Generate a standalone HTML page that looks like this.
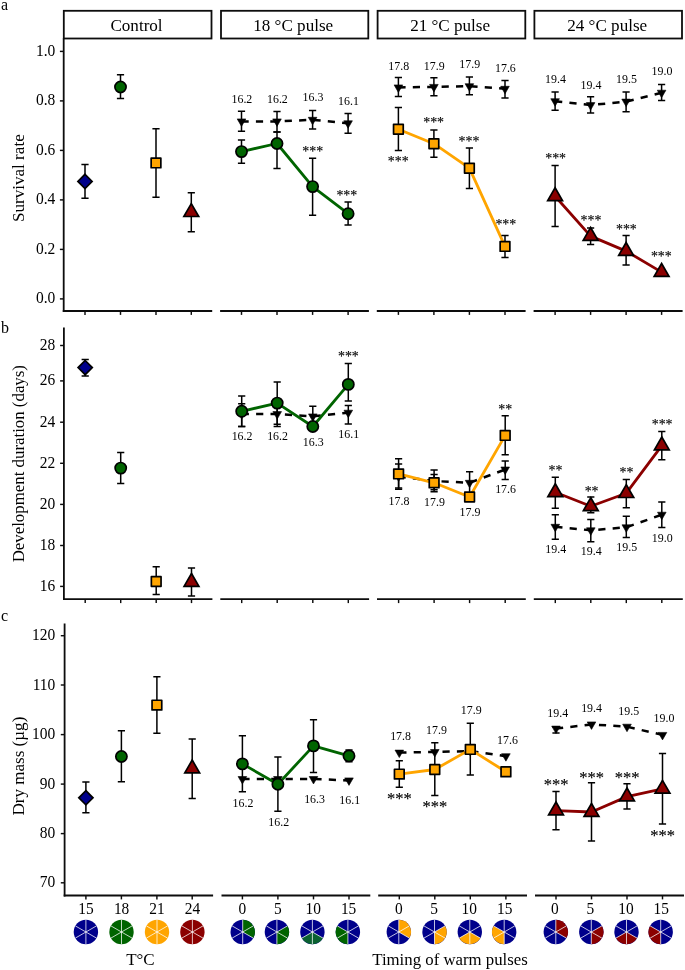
<!DOCTYPE html>
<html lang="en"><head><meta charset="utf-8"><title>Figure</title>
<style>html,body{margin:0;padding:0;background:#fff}body{width:685px;height:970px;overflow:hidden}svg{display:block}text{font-family:"Liberation Serif","Times New Roman",Times,serif;fill:#000}</style>
</head><body>
<svg width="685" height="970" viewBox="0 0 685 970">
<rect x="0" y="0" width="685" height="970" fill="#fff"/>
<rect x="63.8" y="10.8" width="147.7" height="27.7" fill="#fff" stroke="#0d0d0d" stroke-width="1.8"/>
<text transform="translate(136.5 30.7) scale(1 1.02)" font-size="17.1" text-anchor="middle">Control</text>
<rect x="221" y="10.8" width="147.3" height="27.7" fill="#fff" stroke="#0d0d0d" stroke-width="1.8"/>
<text transform="translate(293.2 30.7) scale(1 1.02)" font-size="17.1" text-anchor="middle">18 °C pulse</text>
<rect x="377.6" y="10.8" width="147.7" height="27.7" fill="#fff" stroke="#0d0d0d" stroke-width="1.8"/>
<text transform="translate(450.1 30.7) scale(1 1.02)" font-size="17.1" text-anchor="middle">21 °C pulse</text>
<rect x="534.4" y="10.8" width="147.6" height="27.7" fill="#fff" stroke="#0d0d0d" stroke-width="1.8"/>
<text transform="translate(607.2 30.7) scale(1 1.02)" font-size="17.1" text-anchor="middle">24 °C pulse</text>
<line x1="63.7" y1="38.2" x2="63.7" y2="311.9" stroke="#0d0d0d" stroke-width="1.8"/>
<line x1="59.9" y1="51.4" x2="63.7" y2="51.4" stroke="#0d0d0d" stroke-width="1.45"/>
<text transform="translate(55.3 55.9) scale(1 1.05)" font-size="15.5" text-anchor="end">1.0</text>
<line x1="59.9" y1="100.9" x2="63.7" y2="100.9" stroke="#0d0d0d" stroke-width="1.45"/>
<text transform="translate(55.3 105.4) scale(1 1.05)" font-size="15.5" text-anchor="end">0.8</text>
<line x1="59.9" y1="150.4" x2="63.7" y2="150.4" stroke="#0d0d0d" stroke-width="1.45"/>
<text transform="translate(55.3 154.9) scale(1 1.05)" font-size="15.5" text-anchor="end">0.6</text>
<line x1="59.9" y1="199.9" x2="63.7" y2="199.9" stroke="#0d0d0d" stroke-width="1.45"/>
<text transform="translate(55.3 204.4) scale(1 1.05)" font-size="15.5" text-anchor="end">0.4</text>
<line x1="59.9" y1="249.4" x2="63.7" y2="249.4" stroke="#0d0d0d" stroke-width="1.45"/>
<text transform="translate(55.3 253.9) scale(1 1.05)" font-size="15.5" text-anchor="end">0.2</text>
<line x1="59.9" y1="298.9" x2="63.7" y2="298.9" stroke="#0d0d0d" stroke-width="1.45"/>
<text transform="translate(55.3 303.4) scale(1 1.05)" font-size="15.5" text-anchor="end">0.0</text>
<line x1="62.8" y1="311" x2="212.2" y2="311" stroke="#0d0d0d" stroke-width="1.8"/>
<line x1="85" y1="311" x2="85" y2="314.9" stroke="#0d0d0d" stroke-width="1.45"/>
<line x1="120.5" y1="311" x2="120.5" y2="314.9" stroke="#0d0d0d" stroke-width="1.45"/>
<line x1="156" y1="311" x2="156" y2="314.9" stroke="#0d0d0d" stroke-width="1.45"/>
<line x1="191.3" y1="311" x2="191.3" y2="314.9" stroke="#0d0d0d" stroke-width="1.45"/>
<line x1="220.1" y1="311" x2="368.9" y2="311" stroke="#0d0d0d" stroke-width="1.8"/>
<line x1="241.5" y1="311" x2="241.5" y2="314.9" stroke="#0d0d0d" stroke-width="1.45"/>
<line x1="277" y1="311" x2="277" y2="314.9" stroke="#0d0d0d" stroke-width="1.45"/>
<line x1="312.6" y1="311" x2="312.6" y2="314.9" stroke="#0d0d0d" stroke-width="1.45"/>
<line x1="348.1" y1="311" x2="348.1" y2="314.9" stroke="#0d0d0d" stroke-width="1.45"/>
<line x1="376.8" y1="311" x2="525.6" y2="311" stroke="#0d0d0d" stroke-width="1.8"/>
<line x1="398.4" y1="311" x2="398.4" y2="314.9" stroke="#0d0d0d" stroke-width="1.45"/>
<line x1="433.9" y1="311" x2="433.9" y2="314.9" stroke="#0d0d0d" stroke-width="1.45"/>
<line x1="469.4" y1="311" x2="469.4" y2="314.9" stroke="#0d0d0d" stroke-width="1.45"/>
<line x1="505" y1="311" x2="505" y2="314.9" stroke="#0d0d0d" stroke-width="1.45"/>
<line x1="533.6" y1="311" x2="682.6" y2="311" stroke="#0d0d0d" stroke-width="1.8"/>
<line x1="555.1" y1="311" x2="555.1" y2="314.9" stroke="#0d0d0d" stroke-width="1.45"/>
<line x1="590.6" y1="311" x2="590.6" y2="314.9" stroke="#0d0d0d" stroke-width="1.45"/>
<line x1="626.1" y1="311" x2="626.1" y2="314.9" stroke="#0d0d0d" stroke-width="1.45"/>
<line x1="661.6" y1="311" x2="661.6" y2="314.9" stroke="#0d0d0d" stroke-width="1.45"/>
<text transform="translate(24.1 178.2) rotate(-90) scale(1 1.02)" font-size="17.1" text-anchor="middle">Survival rate</text>
<text transform="translate(1 9.5) scale(1 1.02)" font-size="16" text-anchor="start">a</text>
<line x1="63.9" y1="327.6" x2="63.9" y2="600.1" stroke="#0d0d0d" stroke-width="1.8"/>
<line x1="60.1" y1="345.5" x2="63.9" y2="345.5" stroke="#0d0d0d" stroke-width="1.45"/>
<text transform="translate(55.3 350) scale(1 1.05)" font-size="15.5" text-anchor="end">28</text>
<line x1="60.1" y1="380.9" x2="63.9" y2="380.9" stroke="#0d0d0d" stroke-width="1.45"/>
<text transform="translate(55.3 385.4) scale(1 1.05)" font-size="15.5" text-anchor="end">26</text>
<line x1="60.1" y1="422.2" x2="63.9" y2="422.2" stroke="#0d0d0d" stroke-width="1.45"/>
<text transform="translate(55.3 426.7) scale(1 1.05)" font-size="15.5" text-anchor="end">24</text>
<line x1="60.1" y1="463.3" x2="63.9" y2="463.3" stroke="#0d0d0d" stroke-width="1.45"/>
<text transform="translate(55.3 467.8) scale(1 1.05)" font-size="15.5" text-anchor="end">22</text>
<line x1="60.1" y1="504.4" x2="63.9" y2="504.4" stroke="#0d0d0d" stroke-width="1.45"/>
<text transform="translate(55.3 508.9) scale(1 1.05)" font-size="15.5" text-anchor="end">20</text>
<line x1="60.1" y1="545.5" x2="63.9" y2="545.5" stroke="#0d0d0d" stroke-width="1.45"/>
<text transform="translate(55.3 550) scale(1 1.05)" font-size="15.5" text-anchor="end">18</text>
<line x1="60.1" y1="586.4" x2="63.9" y2="586.4" stroke="#0d0d0d" stroke-width="1.45"/>
<text transform="translate(55.3 590.9) scale(1 1.05)" font-size="15.5" text-anchor="end">16</text>
<line x1="63" y1="599.2" x2="212.4" y2="599.2" stroke="#0d0d0d" stroke-width="1.8"/>
<line x1="85.2" y1="599.2" x2="85.2" y2="603.1" stroke="#0d0d0d" stroke-width="1.45"/>
<line x1="120.7" y1="599.2" x2="120.7" y2="603.1" stroke="#0d0d0d" stroke-width="1.45"/>
<line x1="156.2" y1="599.2" x2="156.2" y2="603.1" stroke="#0d0d0d" stroke-width="1.45"/>
<line x1="191.5" y1="599.2" x2="191.5" y2="603.1" stroke="#0d0d0d" stroke-width="1.45"/>
<line x1="220.3" y1="599.2" x2="369.1" y2="599.2" stroke="#0d0d0d" stroke-width="1.8"/>
<line x1="241.7" y1="599.2" x2="241.7" y2="603.1" stroke="#0d0d0d" stroke-width="1.45"/>
<line x1="277.2" y1="599.2" x2="277.2" y2="603.1" stroke="#0d0d0d" stroke-width="1.45"/>
<line x1="312.8" y1="599.2" x2="312.8" y2="603.1" stroke="#0d0d0d" stroke-width="1.45"/>
<line x1="348.3" y1="599.2" x2="348.3" y2="603.1" stroke="#0d0d0d" stroke-width="1.45"/>
<line x1="377" y1="599.2" x2="525.8" y2="599.2" stroke="#0d0d0d" stroke-width="1.8"/>
<line x1="398.6" y1="599.2" x2="398.6" y2="603.1" stroke="#0d0d0d" stroke-width="1.45"/>
<line x1="434.1" y1="599.2" x2="434.1" y2="603.1" stroke="#0d0d0d" stroke-width="1.45"/>
<line x1="469.6" y1="599.2" x2="469.6" y2="603.1" stroke="#0d0d0d" stroke-width="1.45"/>
<line x1="505.2" y1="599.2" x2="505.2" y2="603.1" stroke="#0d0d0d" stroke-width="1.45"/>
<line x1="533.8" y1="599.2" x2="682.8" y2="599.2" stroke="#0d0d0d" stroke-width="1.8"/>
<line x1="555.3" y1="599.2" x2="555.3" y2="603.1" stroke="#0d0d0d" stroke-width="1.45"/>
<line x1="590.8" y1="599.2" x2="590.8" y2="603.1" stroke="#0d0d0d" stroke-width="1.45"/>
<line x1="626.3" y1="599.2" x2="626.3" y2="603.1" stroke="#0d0d0d" stroke-width="1.45"/>
<line x1="661.8" y1="599.2" x2="661.8" y2="603.1" stroke="#0d0d0d" stroke-width="1.45"/>
<text transform="translate(24.1 463.7) rotate(-90) scale(1 1.02)" font-size="16.85" text-anchor="middle">Development duration (days)</text>
<text transform="translate(1 333) scale(1 1.02)" font-size="16" text-anchor="start">b</text>
<line x1="64.6" y1="623.6" x2="64.6" y2="896.4" stroke="#0d0d0d" stroke-width="1.8"/>
<line x1="60.8" y1="635.7" x2="64.6" y2="635.7" stroke="#0d0d0d" stroke-width="1.45"/>
<text transform="translate(55.3 640.2) scale(1 1.05)" font-size="15.5" text-anchor="end">120</text>
<line x1="60.8" y1="685" x2="64.6" y2="685" stroke="#0d0d0d" stroke-width="1.45"/>
<text transform="translate(55.3 689.5) scale(1 1.05)" font-size="15.5" text-anchor="end">110</text>
<line x1="60.8" y1="734.6" x2="64.6" y2="734.6" stroke="#0d0d0d" stroke-width="1.45"/>
<text transform="translate(55.3 739.1) scale(1 1.05)" font-size="15.5" text-anchor="end">100</text>
<line x1="60.8" y1="784.1" x2="64.6" y2="784.1" stroke="#0d0d0d" stroke-width="1.45"/>
<text transform="translate(55.3 788.6) scale(1 1.05)" font-size="15.5" text-anchor="end">90</text>
<line x1="60.8" y1="833.6" x2="64.6" y2="833.6" stroke="#0d0d0d" stroke-width="1.45"/>
<text transform="translate(55.3 838.1) scale(1 1.05)" font-size="15.5" text-anchor="end">80</text>
<line x1="60.8" y1="882.8" x2="64.6" y2="882.8" stroke="#0d0d0d" stroke-width="1.45"/>
<text transform="translate(55.3 887.3) scale(1 1.05)" font-size="15.5" text-anchor="end">70</text>
<line x1="63.7" y1="895.5" x2="213.1" y2="895.5" stroke="#0d0d0d" stroke-width="1.8"/>
<line x1="85.9" y1="895.5" x2="85.9" y2="899.4" stroke="#0d0d0d" stroke-width="1.45"/>
<line x1="121.4" y1="895.5" x2="121.4" y2="899.4" stroke="#0d0d0d" stroke-width="1.45"/>
<line x1="156.9" y1="895.5" x2="156.9" y2="899.4" stroke="#0d0d0d" stroke-width="1.45"/>
<line x1="192.2" y1="895.5" x2="192.2" y2="899.4" stroke="#0d0d0d" stroke-width="1.45"/>
<line x1="221.5" y1="895.5" x2="370.3" y2="895.5" stroke="#0d0d0d" stroke-width="1.8"/>
<line x1="242.4" y1="895.5" x2="242.4" y2="899.4" stroke="#0d0d0d" stroke-width="1.45"/>
<line x1="277.9" y1="895.5" x2="277.9" y2="899.4" stroke="#0d0d0d" stroke-width="1.45"/>
<line x1="313.5" y1="895.5" x2="313.5" y2="899.4" stroke="#0d0d0d" stroke-width="1.45"/>
<line x1="349" y1="895.5" x2="349" y2="899.4" stroke="#0d0d0d" stroke-width="1.45"/>
<line x1="378.2" y1="895.5" x2="527" y2="895.5" stroke="#0d0d0d" stroke-width="1.8"/>
<line x1="399.3" y1="895.5" x2="399.3" y2="899.4" stroke="#0d0d0d" stroke-width="1.45"/>
<line x1="434.8" y1="895.5" x2="434.8" y2="899.4" stroke="#0d0d0d" stroke-width="1.45"/>
<line x1="470.3" y1="895.5" x2="470.3" y2="899.4" stroke="#0d0d0d" stroke-width="1.45"/>
<line x1="505.9" y1="895.5" x2="505.9" y2="899.4" stroke="#0d0d0d" stroke-width="1.45"/>
<line x1="535" y1="895.5" x2="684" y2="895.5" stroke="#0d0d0d" stroke-width="1.8"/>
<line x1="556" y1="895.5" x2="556" y2="899.4" stroke="#0d0d0d" stroke-width="1.45"/>
<line x1="591.5" y1="895.5" x2="591.5" y2="899.4" stroke="#0d0d0d" stroke-width="1.45"/>
<line x1="627" y1="895.5" x2="627" y2="899.4" stroke="#0d0d0d" stroke-width="1.45"/>
<line x1="662.5" y1="895.5" x2="662.5" y2="899.4" stroke="#0d0d0d" stroke-width="1.45"/>
<text transform="translate(24.1 766.1) rotate(-90) scale(1 1.02)" font-size="17.05" text-anchor="middle">Dry mass (µg)</text>
<text transform="translate(1 621.4) scale(1 1.02)" font-size="16" text-anchor="start">c</text>
<path d="M85 164.4V198.3M81.4 164.4H88.6M81.4 198.3H88.6" fill="none" stroke="#000" stroke-width="1.5"/>
<path d="M120.5 74.8V98.4M116.9 74.8H124.1M116.9 98.4H124.1" fill="none" stroke="#000" stroke-width="1.5"/>
<path d="M156 128.8V197.2M152.4 128.8H159.6M152.4 197.2H159.6" fill="none" stroke="#000" stroke-width="1.5"/>
<path d="M191.3 192.8V231.8M187.7 192.8H194.9M187.7 231.8H194.9" fill="none" stroke="#000" stroke-width="1.5"/>
<path d="M85 174.3L92.1 181.4L85 188.5L77.9 181.4Z" fill="#00008b" stroke="#000" stroke-width="1.7" stroke-linejoin="miter"/>
<circle cx="120.5" cy="87" r="5.6" fill="#006400" stroke="#000" stroke-width="1.7"/>
<rect x="151.15" y="158.05" width="9.7" height="9.7" fill="#ffa500" stroke="#000" stroke-width="1.7" stroke-linejoin="round"/>
<path d="M191.3 203.65L198.71 216.48L183.89 216.48Z" fill="#8b0000" stroke="#000" stroke-width="1.7" stroke-linejoin="miter"/>
<polyline points="241.5,121.4 277,121.4 312.6,119.8 348.1,123.3" fill="none" stroke="#000" stroke-width="2.5" stroke-linejoin="round" stroke-dasharray="7.2 7.2"/>
<path d="M241.5 111.3V131.2M237.9 111.3H245.1M237.9 131.2H245.1" fill="none" stroke="#000" stroke-width="1.5"/>
<path d="M277 111.6V131.9M273.4 111.6H280.6M273.4 131.9H280.6" fill="none" stroke="#000" stroke-width="1.5"/>
<path d="M312.6 110.6V128.9M309 110.6H316.2M309 128.9H316.2" fill="none" stroke="#000" stroke-width="1.5"/>
<path d="M348.1 113.4V133.3M344.5 113.4H351.7M344.5 133.3H351.7" fill="none" stroke="#000" stroke-width="1.5"/>
<path d="M241.5 126.38L245.81 118.91L237.19 118.91Z" fill="#000" stroke="#000" stroke-width="0.6" stroke-linejoin="miter"/>
<path d="M277 126.38L281.31 118.91L272.69 118.91Z" fill="#000" stroke="#000" stroke-width="0.6" stroke-linejoin="miter"/>
<path d="M312.6 124.78L316.91 117.31L308.29 117.31Z" fill="#000" stroke="#000" stroke-width="0.6" stroke-linejoin="miter"/>
<path d="M348.1 128.28L352.41 120.81L343.79 120.81Z" fill="#000" stroke="#000" stroke-width="0.6" stroke-linejoin="miter"/>
<polyline points="241.5,151.6 277,143.5 312.6,186.6 348.1,213.7" fill="none" stroke="#006400" stroke-width="2.8" stroke-linejoin="round"/>
<path d="M241.5 140.1V163.2M237.9 140.1H245.1M237.9 163.2H245.1" fill="none" stroke="#000" stroke-width="1.5"/>
<path d="M277 131.9V168.6M273.4 131.9H280.6M273.4 168.6H280.6" fill="none" stroke="#000" stroke-width="1.5"/>
<path d="M312.6 158.3V215.3M309 158.3H316.2M309 215.3H316.2" fill="none" stroke="#000" stroke-width="1.5"/>
<path d="M348.1 202V225.1M344.5 202H351.7M344.5 225.1H351.7" fill="none" stroke="#000" stroke-width="1.5"/>
<circle cx="241.5" cy="151.6" r="5.6" fill="#006400" stroke="#000" stroke-width="1.7"/>
<circle cx="277" cy="143.5" r="5.6" fill="#006400" stroke="#000" stroke-width="1.7"/>
<circle cx="312.6" cy="186.6" r="5.6" fill="#006400" stroke="#000" stroke-width="1.7"/>
<circle cx="348.1" cy="213.7" r="5.6" fill="#006400" stroke="#000" stroke-width="1.7"/>
<text transform="translate(241.9 102.6) scale(0.97 1.05)" font-size="12.3" text-anchor="middle">16.2</text>
<text transform="translate(277.4 102.6) scale(0.97 1.05)" font-size="12.3" text-anchor="middle">16.2</text>
<text transform="translate(313 101.3) scale(0.97 1.05)" font-size="12.3" text-anchor="middle">16.3</text>
<text transform="translate(348.5 105) scale(0.97 1.05)" font-size="12.3" text-anchor="middle">16.1</text>
<text transform="translate(312.7 156.19) scale(1 1.02)" font-size="13.9" text-anchor="middle" stroke="#000" stroke-width="0.15">***</text>
<text transform="translate(346.8 199.89) scale(1 1.02)" font-size="13.9" text-anchor="middle" stroke="#000" stroke-width="0.15">***</text>
<polyline points="398.4,87.4 433.9,86.9 469.4,86.2 505,88.8" fill="none" stroke="#000" stroke-width="2.5" stroke-linejoin="round" stroke-dasharray="7.2 7.2"/>
<path d="M398.4 77.6V96.5M394.8 77.6H402M394.8 96.5H402" fill="none" stroke="#000" stroke-width="1.5"/>
<path d="M433.9 77.8V95.8M430.3 77.8H437.5M430.3 95.8H437.5" fill="none" stroke="#000" stroke-width="1.5"/>
<path d="M469.4 77.1V94.8M465.8 77.1H473M465.8 94.8H473" fill="none" stroke="#000" stroke-width="1.5"/>
<path d="M505 80.4V98.1M501.4 80.4H508.6M501.4 98.1H508.6" fill="none" stroke="#000" stroke-width="1.5"/>
<path d="M398.4 92.38L402.71 84.91L394.09 84.91Z" fill="#000" stroke="#000" stroke-width="0.6" stroke-linejoin="miter"/>
<path d="M433.9 91.88L438.21 84.41L429.59 84.41Z" fill="#000" stroke="#000" stroke-width="0.6" stroke-linejoin="miter"/>
<path d="M469.4 91.18L473.71 83.71L465.09 83.71Z" fill="#000" stroke="#000" stroke-width="0.6" stroke-linejoin="miter"/>
<path d="M505 93.78L509.31 86.31L500.69 86.31Z" fill="#000" stroke="#000" stroke-width="0.6" stroke-linejoin="miter"/>
<polyline points="398.4,129.2 433.9,143.7 469.4,168.2 505,246.4" fill="none" stroke="#ffa500" stroke-width="2.8" stroke-linejoin="round"/>
<path d="M398.4 107.5V150.4M394.8 107.5H402M394.8 150.4H402" fill="none" stroke="#000" stroke-width="1.5"/>
<path d="M433.9 130.1V157.2M430.3 130.1H437.5M430.3 157.2H437.5" fill="none" stroke="#000" stroke-width="1.5"/>
<path d="M469.4 148.1V188.5M465.8 148.1H473M465.8 188.5H473" fill="none" stroke="#000" stroke-width="1.5"/>
<path d="M505 235.6V257.4M501.4 235.6H508.6M501.4 257.4H508.6" fill="none" stroke="#000" stroke-width="1.5"/>
<rect x="393.55" y="124.35" width="9.7" height="9.7" fill="#ffa500" stroke="#000" stroke-width="1.7" stroke-linejoin="round"/>
<rect x="429.05" y="138.85" width="9.7" height="9.7" fill="#ffa500" stroke="#000" stroke-width="1.7" stroke-linejoin="round"/>
<rect x="464.55" y="163.35" width="9.7" height="9.7" fill="#ffa500" stroke="#000" stroke-width="1.7" stroke-linejoin="round"/>
<rect x="500.15" y="241.55" width="9.7" height="9.7" fill="#ffa500" stroke="#000" stroke-width="1.7" stroke-linejoin="round"/>
<text transform="translate(398.8 69.6) scale(0.97 1.05)" font-size="12.3" text-anchor="middle">17.8</text>
<text transform="translate(434.3 69.6) scale(0.97 1.05)" font-size="12.3" text-anchor="middle">17.9</text>
<text transform="translate(469.8 68.2) scale(0.97 1.05)" font-size="12.3" text-anchor="middle">17.9</text>
<text transform="translate(505.4 71.7) scale(0.97 1.05)" font-size="12.3" text-anchor="middle">17.6</text>
<text transform="translate(398.2 166.49) scale(1 1.02)" font-size="13.9" text-anchor="middle" stroke="#000" stroke-width="0.15">***</text>
<text transform="translate(433.6 127.39) scale(1 1.02)" font-size="13.9" text-anchor="middle" stroke="#000" stroke-width="0.15">***</text>
<text transform="translate(469 146.29) scale(1 1.02)" font-size="13.9" text-anchor="middle" stroke="#000" stroke-width="0.15">***</text>
<text transform="translate(505.8 228.99) scale(1 1.02)" font-size="13.9" text-anchor="middle" stroke="#000" stroke-width="0.15">***</text>
<polyline points="555.1,101.2 590.6,105.1 626.1,101.6 661.6,92.7" fill="none" stroke="#000" stroke-width="2.5" stroke-linejoin="round" stroke-dasharray="7.2 7.2"/>
<path d="M555.1 92V110.3M551.5 92H558.7M551.5 110.3H558.7" fill="none" stroke="#000" stroke-width="1.5"/>
<path d="M590.6 96.7V113.1M587 96.7H594.2M587 113.1H594.2" fill="none" stroke="#000" stroke-width="1.5"/>
<path d="M626.1 92V111.7M622.5 92H629.7M622.5 111.7H629.7" fill="none" stroke="#000" stroke-width="1.5"/>
<path d="M661.6 84.6V100.5M658 84.6H665.2M658 100.5H665.2" fill="none" stroke="#000" stroke-width="1.5"/>
<path d="M555.1 106.18L559.41 98.71L550.79 98.71Z" fill="#000" stroke="#000" stroke-width="0.6" stroke-linejoin="miter"/>
<path d="M590.6 110.08L594.91 102.61L586.29 102.61Z" fill="#000" stroke="#000" stroke-width="0.6" stroke-linejoin="miter"/>
<path d="M626.1 106.58L630.41 99.11L621.79 99.11Z" fill="#000" stroke="#000" stroke-width="0.6" stroke-linejoin="miter"/>
<path d="M661.6 97.68L665.91 90.21L657.29 90.21Z" fill="#000" stroke="#000" stroke-width="0.6" stroke-linejoin="miter"/>
<polyline points="555.1,196.3 590.6,236.1 626.1,251.1 661.6,272.1" fill="none" stroke="#8b0000" stroke-width="2.8" stroke-linejoin="round"/>
<path d="M555.1 165.4V226.6M551.5 165.4H558.7M551.5 226.6H558.7" fill="none" stroke="#000" stroke-width="1.5"/>
<path d="M590.6 228V244.5M587 228H594.2M587 244.5H594.2" fill="none" stroke="#000" stroke-width="1.5"/>
<path d="M626.1 235.6V265.1M622.5 235.6H629.7M622.5 265.1H629.7" fill="none" stroke="#000" stroke-width="1.5"/>
<path d="M555.1 187.75L562.51 200.58L547.69 200.58Z" fill="#8b0000" stroke="#000" stroke-width="1.7" stroke-linejoin="miter"/>
<path d="M590.6 227.55L598.01 240.38L583.19 240.38Z" fill="#8b0000" stroke="#000" stroke-width="1.7" stroke-linejoin="miter"/>
<path d="M626.1 242.55L633.51 255.38L618.69 255.38Z" fill="#8b0000" stroke="#000" stroke-width="1.7" stroke-linejoin="miter"/>
<path d="M661.6 263.55L669.01 276.38L654.19 276.38Z" fill="#8b0000" stroke="#000" stroke-width="1.7" stroke-linejoin="miter"/>
<text transform="translate(555.5 83.2) scale(0.97 1.05)" font-size="12.3" text-anchor="middle">19.4</text>
<text transform="translate(591 88.8) scale(0.97 1.05)" font-size="12.3" text-anchor="middle">19.4</text>
<text transform="translate(626.5 83.2) scale(0.97 1.05)" font-size="12.3" text-anchor="middle">19.5</text>
<text transform="translate(662 75.2) scale(0.97 1.05)" font-size="12.3" text-anchor="middle">19.0</text>
<text transform="translate(555.6 163.49) scale(1 1.02)" font-size="13.9" text-anchor="middle" stroke="#000" stroke-width="0.15">***</text>
<text transform="translate(591 225.29) scale(1 1.02)" font-size="13.9" text-anchor="middle" stroke="#000" stroke-width="0.15">***</text>
<text transform="translate(626.4 233.99) scale(1 1.02)" font-size="13.9" text-anchor="middle" stroke="#000" stroke-width="0.15">***</text>
<text transform="translate(661.3 260.99) scale(1 1.02)" font-size="13.9" text-anchor="middle" stroke="#000" stroke-width="0.15">***</text>
<path d="M85.2 359.4V376M81.6 359.4H88.8M81.6 376H88.8" fill="none" stroke="#000" stroke-width="1.5"/>
<path d="M120.7 452.4V483.5M117.1 452.4H124.3M117.1 483.5H124.3" fill="none" stroke="#000" stroke-width="1.5"/>
<path d="M156.2 566.7V594.6M152.6 566.7H159.8M152.6 594.6H159.8" fill="none" stroke="#000" stroke-width="1.5"/>
<path d="M191.5 568V595.9M187.9 568H195.1M187.9 595.9H195.1" fill="none" stroke="#000" stroke-width="1.5"/>
<path d="M85.2 360.5L92.3 367.6L85.2 374.7L78.1 367.6Z" fill="#00008b" stroke="#000" stroke-width="1.7" stroke-linejoin="miter"/>
<circle cx="120.7" cy="468.1" r="5.6" fill="#006400" stroke="#000" stroke-width="1.7"/>
<rect x="151.35" y="576.65" width="9.7" height="9.7" fill="#ffa500" stroke="#000" stroke-width="1.7" stroke-linejoin="round"/>
<path d="M191.5 573.45L198.91 586.28L184.09 586.28Z" fill="#8b0000" stroke="#000" stroke-width="1.7" stroke-linejoin="miter"/>
<polyline points="241.7,414.1 277.2,414.1 312.8,416.4 348.3,412.7" fill="none" stroke="#000" stroke-width="2.5" stroke-linejoin="round" stroke-dasharray="7.2 7.2"/>
<path d="M241.7 403.8V426.6M238.1 403.8H245.3M238.1 426.6H245.3" fill="none" stroke="#000" stroke-width="1.5"/>
<path d="M277.2 404V426.5M273.6 404H280.8M273.6 426.5H280.8" fill="none" stroke="#000" stroke-width="1.5"/>
<path d="M312.8 406.2V426M309.2 406.2H316.4M309.2 426H316.4" fill="none" stroke="#000" stroke-width="1.5"/>
<path d="M348.3 405.4V424.1M344.7 405.4H351.9M344.7 424.1H351.9" fill="none" stroke="#000" stroke-width="1.5"/>
<path d="M241.7 419.08L246.01 411.61L237.39 411.61Z" fill="#000" stroke="#000" stroke-width="0.6" stroke-linejoin="miter"/>
<path d="M277.2 419.08L281.51 411.61L272.89 411.61Z" fill="#000" stroke="#000" stroke-width="0.6" stroke-linejoin="miter"/>
<path d="M312.8 421.38L317.11 413.91L308.49 413.91Z" fill="#000" stroke="#000" stroke-width="0.6" stroke-linejoin="miter"/>
<path d="M348.3 417.68L352.61 410.21L343.99 410.21Z" fill="#000" stroke="#000" stroke-width="0.6" stroke-linejoin="miter"/>
<polyline points="241.7,411.3 277.2,403.1 312.8,426.5 348.3,384.4" fill="none" stroke="#006400" stroke-width="2.8" stroke-linejoin="round"/>
<path d="M241.7 396.1V426.6M238.1 396.1H245.3M238.1 426.6H245.3" fill="none" stroke="#000" stroke-width="1.5"/>
<path d="M277.2 381.9V424.3M273.6 381.9H280.8M273.6 424.3H280.8" fill="none" stroke="#000" stroke-width="1.5"/>
<path d="M348.3 363.6V401M344.7 363.6H351.9M344.7 401H351.9" fill="none" stroke="#000" stroke-width="1.5"/>
<circle cx="241.7" cy="411.3" r="5.6" fill="#006400" stroke="#000" stroke-width="1.7"/>
<circle cx="277.2" cy="403.1" r="5.6" fill="#006400" stroke="#000" stroke-width="1.7"/>
<circle cx="312.8" cy="426.5" r="5.6" fill="#006400" stroke="#000" stroke-width="1.7"/>
<circle cx="348.3" cy="384.4" r="5.6" fill="#006400" stroke="#000" stroke-width="1.7"/>
<text transform="translate(242.1 439.8) scale(0.97 1.05)" font-size="12.3" text-anchor="middle">16.2</text>
<text transform="translate(277.6 439.8) scale(0.97 1.05)" font-size="12.3" text-anchor="middle">16.2</text>
<text transform="translate(313.2 445.6) scale(0.97 1.05)" font-size="12.3" text-anchor="middle">16.3</text>
<text transform="translate(348.7 437.9) scale(0.97 1.05)" font-size="12.3" text-anchor="middle">16.1</text>
<text transform="translate(348.4 360.59) scale(1 1.02)" font-size="13.9" text-anchor="middle" stroke="#000" stroke-width="0.15">***</text>
<polyline points="398.6,476.5 434.1,481 469.6,482.8 505.2,469.5" fill="none" stroke="#000" stroke-width="2.5" stroke-linejoin="round" stroke-dasharray="7.2 7.2"/>
<path d="M398.6 464.1V488M395 464.1H402.2M395 488H402.2" fill="none" stroke="#000" stroke-width="1.5"/>
<path d="M434.1 474.6V489.8M430.5 474.6H437.7M430.5 489.8H437.7" fill="none" stroke="#000" stroke-width="1.5"/>
<path d="M469.6 471.8V493M466 471.8H473.2M466 493H473.2" fill="none" stroke="#000" stroke-width="1.5"/>
<path d="M505.2 461V479.5M501.6 461H508.8M501.6 479.5H508.8" fill="none" stroke="#000" stroke-width="1.5"/>
<path d="M398.6 481.48L402.91 474.01L394.29 474.01Z" fill="#000" stroke="#000" stroke-width="0.6" stroke-linejoin="miter"/>
<path d="M434.1 485.98L438.41 478.51L429.79 478.51Z" fill="#000" stroke="#000" stroke-width="0.6" stroke-linejoin="miter"/>
<path d="M469.6 487.78L473.91 480.31L465.29 480.31Z" fill="#000" stroke="#000" stroke-width="0.6" stroke-linejoin="miter"/>
<path d="M505.2 474.48L509.51 467.01L500.89 467.01Z" fill="#000" stroke="#000" stroke-width="0.6" stroke-linejoin="miter"/>
<polyline points="398.6,473.9 434.1,482.8 469.6,497 505.2,435.4" fill="none" stroke="#ffa500" stroke-width="2.8" stroke-linejoin="round"/>
<path d="M398.6 458.7V489.3M395 458.7H402.2M395 489.3H402.2" fill="none" stroke="#000" stroke-width="1.5"/>
<path d="M434.1 469.9V491.7M430.5 469.9H437.7M430.5 491.7H437.7" fill="none" stroke="#000" stroke-width="1.5"/>
<path d="M505.2 415.7V454.7M501.6 415.7H508.8M501.6 454.7H508.8" fill="none" stroke="#000" stroke-width="1.5"/>
<rect x="393.75" y="469.05" width="9.7" height="9.7" fill="#ffa500" stroke="#000" stroke-width="1.7" stroke-linejoin="round"/>
<rect x="429.25" y="477.95" width="9.7" height="9.7" fill="#ffa500" stroke="#000" stroke-width="1.7" stroke-linejoin="round"/>
<rect x="464.75" y="492.15" width="9.7" height="9.7" fill="#ffa500" stroke="#000" stroke-width="1.7" stroke-linejoin="round"/>
<rect x="500.35" y="430.55" width="9.7" height="9.7" fill="#ffa500" stroke="#000" stroke-width="1.7" stroke-linejoin="round"/>
<text transform="translate(399 505) scale(0.97 1.05)" font-size="12.3" text-anchor="middle">17.8</text>
<text transform="translate(434.5 506.1) scale(0.97 1.05)" font-size="12.3" text-anchor="middle">17.9</text>
<text transform="translate(470 516.2) scale(0.97 1.05)" font-size="12.3" text-anchor="middle">17.9</text>
<text transform="translate(505.6 492.8) scale(0.97 1.05)" font-size="12.3" text-anchor="middle">17.6</text>
<text transform="translate(505.2 414.09) scale(1 1.02)" font-size="13.9" text-anchor="middle" stroke="#000" stroke-width="0.15">**</text>
<polyline points="555.3,526.8 590.8,530.3 626.3,527.3 661.8,514.7" fill="none" stroke="#000" stroke-width="2.5" stroke-linejoin="round" stroke-dasharray="7.2 7.2"/>
<path d="M555.3 514.7V539.2M551.7 514.7H558.9M551.7 539.2H558.9" fill="none" stroke="#000" stroke-width="1.5"/>
<path d="M590.8 519.4V541.8M587.2 519.4H594.4M587.2 541.8H594.4" fill="none" stroke="#000" stroke-width="1.5"/>
<path d="M626.3 516.3V537.6M622.7 516.3H629.9M622.7 537.6H629.9" fill="none" stroke="#000" stroke-width="1.5"/>
<path d="M661.8 502.1V527.5M658.2 502.1H665.4M658.2 527.5H665.4" fill="none" stroke="#000" stroke-width="1.5"/>
<path d="M555.3 531.78L559.61 524.31L550.99 524.31Z" fill="#000" stroke="#000" stroke-width="0.6" stroke-linejoin="miter"/>
<path d="M590.8 535.28L595.11 527.81L586.49 527.81Z" fill="#000" stroke="#000" stroke-width="0.6" stroke-linejoin="miter"/>
<path d="M626.3 532.28L630.61 524.81L621.99 524.81Z" fill="#000" stroke="#000" stroke-width="0.6" stroke-linejoin="miter"/>
<path d="M661.8 519.68L666.11 512.21L657.49 512.21Z" fill="#000" stroke="#000" stroke-width="0.6" stroke-linejoin="miter"/>
<polyline points="555.3,492.3 590.8,506.3 626.3,493.2 661.8,445.6" fill="none" stroke="#8b0000" stroke-width="2.8" stroke-linejoin="round"/>
<path d="M555.3 477.3V508.2M551.7 477.3H558.9M551.7 508.2H558.9" fill="none" stroke="#000" stroke-width="1.5"/>
<path d="M590.8 497V512.8M587.2 497H594.4M587.2 512.8H594.4" fill="none" stroke="#000" stroke-width="1.5"/>
<path d="M626.3 479.4V507.7M622.7 479.4H629.9M622.7 507.7H629.9" fill="none" stroke="#000" stroke-width="1.5"/>
<path d="M661.8 431.5V459.8M658.2 431.5H665.4M658.2 459.8H665.4" fill="none" stroke="#000" stroke-width="1.5"/>
<path d="M555.3 483.75L562.71 496.58L547.89 496.58Z" fill="#8b0000" stroke="#000" stroke-width="1.7" stroke-linejoin="miter"/>
<path d="M590.8 497.75L598.21 510.58L583.39 510.58Z" fill="#8b0000" stroke="#000" stroke-width="1.7" stroke-linejoin="miter"/>
<path d="M626.3 484.65L633.71 497.48L618.89 497.48Z" fill="#8b0000" stroke="#000" stroke-width="1.7" stroke-linejoin="miter"/>
<path d="M661.8 437.05L669.21 449.88L654.39 449.88Z" fill="#8b0000" stroke="#000" stroke-width="1.7" stroke-linejoin="miter"/>
<text transform="translate(555.7 552.5) scale(0.97 1.05)" font-size="12.3" text-anchor="middle">19.4</text>
<text transform="translate(591.2 555.3) scale(0.97 1.05)" font-size="12.3" text-anchor="middle">19.4</text>
<text transform="translate(626.7 551.4) scale(0.97 1.05)" font-size="12.3" text-anchor="middle">19.5</text>
<text transform="translate(662.2 541.8) scale(0.97 1.05)" font-size="12.3" text-anchor="middle">19.0</text>
<text transform="translate(555.4 474.79) scale(1 1.02)" font-size="13.9" text-anchor="middle" stroke="#000" stroke-width="0.15">**</text>
<text transform="translate(591.6 495.79) scale(1 1.02)" font-size="13.9" text-anchor="middle" stroke="#000" stroke-width="0.15">**</text>
<text transform="translate(626.4 476.59) scale(1 1.02)" font-size="13.9" text-anchor="middle" stroke="#000" stroke-width="0.15">**</text>
<text transform="translate(662.1 429.19) scale(1 1.02)" font-size="13.9" text-anchor="middle" stroke="#000" stroke-width="0.15">***</text>
<path d="M85.9 781.9V812.8M82.3 781.9H89.5M82.3 812.8H89.5" fill="none" stroke="#000" stroke-width="1.5"/>
<path d="M121.4 730.8V781.7M117.8 730.8H125M117.8 781.7H125" fill="none" stroke="#000" stroke-width="1.5"/>
<path d="M156.9 676.8V733.3M153.3 676.8H160.5M153.3 733.3H160.5" fill="none" stroke="#000" stroke-width="1.5"/>
<path d="M192.2 739V798.5M188.6 739H195.8M188.6 798.5H195.8" fill="none" stroke="#000" stroke-width="1.5"/>
<path d="M85.9 790.7L93 797.8L85.9 804.9L78.8 797.8Z" fill="#00008b" stroke="#000" stroke-width="1.7" stroke-linejoin="miter"/>
<circle cx="121.4" cy="756.5" r="5.6" fill="#006400" stroke="#000" stroke-width="1.7"/>
<rect x="152.05" y="700.25" width="9.7" height="9.7" fill="#ffa500" stroke="#000" stroke-width="1.7" stroke-linejoin="round"/>
<path d="M192.2 760.05L199.61 772.88L184.79 772.88Z" fill="#8b0000" stroke="#000" stroke-width="1.7" stroke-linejoin="miter"/>
<polyline points="242.4,779 277.9,779 313.5,779 349,780.4" fill="none" stroke="#000" stroke-width="2.5" stroke-linejoin="round" stroke-dasharray="7.2 7.2"/>
<path d="M242.4 783.98L246.71 776.51L238.09 776.51Z" fill="#000" stroke="#000" stroke-width="0.6" stroke-linejoin="miter"/>
<path d="M277.9 783.98L282.21 776.51L273.59 776.51Z" fill="#000" stroke="#000" stroke-width="0.6" stroke-linejoin="miter"/>
<path d="M313.5 783.98L317.81 776.51L309.19 776.51Z" fill="#000" stroke="#000" stroke-width="0.6" stroke-linejoin="miter"/>
<path d="M349 785.38L353.31 777.91L344.69 777.91Z" fill="#000" stroke="#000" stroke-width="0.6" stroke-linejoin="miter"/>
<polyline points="242.4,763.9 277.9,784.2 313.5,745.9 349,755.9" fill="none" stroke="#006400" stroke-width="2.8" stroke-linejoin="round"/>
<path d="M242.4 735.8V791.7M238.8 735.8H246M238.8 791.7H246" fill="none" stroke="#000" stroke-width="1.5"/>
<path d="M277.9 757.1V811.3M274.3 757.1H281.5M274.3 811.3H281.5" fill="none" stroke="#000" stroke-width="1.5"/>
<path d="M313.5 719.7V772.5M309.9 719.7H317.1M309.9 772.5H317.1" fill="none" stroke="#000" stroke-width="1.5"/>
<path d="M349 750V761.8M345.4 750H352.6M345.4 761.8H352.6" fill="none" stroke="#000" stroke-width="1.5"/>
<circle cx="242.4" cy="763.9" r="5.6" fill="#006400" stroke="#000" stroke-width="1.7"/>
<circle cx="277.9" cy="784.2" r="5.6" fill="#006400" stroke="#000" stroke-width="1.7"/>
<circle cx="313.5" cy="745.9" r="5.6" fill="#006400" stroke="#000" stroke-width="1.7"/>
<circle cx="349" cy="755.9" r="5.6" fill="#006400" stroke="#000" stroke-width="1.7"/>
<text transform="translate(243 806.8) scale(0.97 1.05)" font-size="12.3" text-anchor="middle">16.2</text>
<text transform="translate(278.8 825.5) scale(0.97 1.05)" font-size="12.3" text-anchor="middle">16.2</text>
<text transform="translate(314.6 802.6) scale(0.97 1.05)" font-size="12.3" text-anchor="middle">16.3</text>
<text transform="translate(349.8 803.8) scale(0.97 1.05)" font-size="12.3" text-anchor="middle">16.1</text>
<polyline points="399.3,752.6 434.8,752 470.3,751 505.9,756.2" fill="none" stroke="#000" stroke-width="2.5" stroke-linejoin="round" stroke-dasharray="7.2 7.2"/>
<path d="M399.3 757.58L403.61 750.11L394.99 750.11Z" fill="#000" stroke="#000" stroke-width="0.6" stroke-linejoin="miter"/>
<path d="M434.8 756.98L439.11 749.51L430.49 749.51Z" fill="#000" stroke="#000" stroke-width="0.6" stroke-linejoin="miter"/>
<path d="M470.3 755.98L474.61 748.51L465.99 748.51Z" fill="#000" stroke="#000" stroke-width="0.6" stroke-linejoin="miter"/>
<path d="M505.9 761.18L510.21 753.71L501.59 753.71Z" fill="#000" stroke="#000" stroke-width="0.6" stroke-linejoin="miter"/>
<polyline points="399.3,774.1 434.8,769.5 470.3,749.4 505.9,771.8" fill="none" stroke="#ffa500" stroke-width="2.8" stroke-linejoin="round"/>
<path d="M399.3 760.8V787.2M395.7 760.8H402.9M395.7 787.2H402.9" fill="none" stroke="#000" stroke-width="1.5"/>
<path d="M434.8 742.8V795.4M431.2 742.8H438.4M431.2 795.4H438.4" fill="none" stroke="#000" stroke-width="1.5"/>
<path d="M470.3 723.2V775.1M466.7 723.2H473.9M466.7 775.1H473.9" fill="none" stroke="#000" stroke-width="1.5"/>
<rect x="394.45" y="769.25" width="9.7" height="9.7" fill="#ffa500" stroke="#000" stroke-width="1.7" stroke-linejoin="round"/>
<rect x="429.95" y="764.65" width="9.7" height="9.7" fill="#ffa500" stroke="#000" stroke-width="1.7" stroke-linejoin="round"/>
<rect x="465.45" y="744.55" width="9.7" height="9.7" fill="#ffa500" stroke="#000" stroke-width="1.7" stroke-linejoin="round"/>
<rect x="501.05" y="766.95" width="9.7" height="9.7" fill="#ffa500" stroke="#000" stroke-width="1.7" stroke-linejoin="round"/>
<text transform="translate(400.6 740.3) scale(0.97 1.05)" font-size="12.3" text-anchor="middle">17.8</text>
<text transform="translate(436.5 733.7) scale(0.97 1.05)" font-size="12.3" text-anchor="middle">17.9</text>
<text transform="translate(471.3 714.1) scale(0.97 1.05)" font-size="12.3" text-anchor="middle">17.9</text>
<text transform="translate(507.5 743.8) scale(0.97 1.05)" font-size="12.3" text-anchor="middle">17.6</text>
<text transform="translate(399.4 804.14) scale(1 1.02)" font-size="16.5" text-anchor="middle" stroke="#000" stroke-width="0.15">***</text>
<text transform="translate(434.9 812.34) scale(1 1.02)" font-size="16.5" text-anchor="middle" stroke="#000" stroke-width="0.15">***</text>
<polyline points="556,728.6 591.5,724.4 627,726.7 662.5,734.9" fill="none" stroke="#000" stroke-width="2.5" stroke-linejoin="round" stroke-dasharray="7.2 7.2"/>
<path d="M556 727V733M552.4 727H559.6M552.4 733H559.6" fill="none" stroke="#000" stroke-width="1.5"/>
<path d="M556 733.58L560.31 726.11L551.69 726.11Z" fill="#000" stroke="#000" stroke-width="0.6" stroke-linejoin="miter"/>
<path d="M591.5 729.38L595.81 721.91L587.19 721.91Z" fill="#000" stroke="#000" stroke-width="0.6" stroke-linejoin="miter"/>
<path d="M627 731.68L631.31 724.21L622.69 724.21Z" fill="#000" stroke="#000" stroke-width="0.6" stroke-linejoin="miter"/>
<path d="M662.5 739.88L666.81 732.41L658.19 732.41Z" fill="#000" stroke="#000" stroke-width="0.6" stroke-linejoin="miter"/>
<polyline points="556,810.6 591.5,812 627,796.6 662.5,788.9" fill="none" stroke="#8b0000" stroke-width="2.8" stroke-linejoin="round"/>
<path d="M556 791.4V829.7M552.4 791.4H559.6M552.4 829.7H559.6" fill="none" stroke="#000" stroke-width="1.5"/>
<path d="M591.5 782.8V840.9M587.9 782.8H595.1M587.9 840.9H595.1" fill="none" stroke="#000" stroke-width="1.5"/>
<path d="M627 783.7V808.9M623.4 783.7H630.6M623.4 808.9H630.6" fill="none" stroke="#000" stroke-width="1.5"/>
<path d="M662.5 753.6V823.9M658.9 753.6H666.1M658.9 823.9H666.1" fill="none" stroke="#000" stroke-width="1.5"/>
<path d="M556 802.05L563.41 814.88L548.59 814.88Z" fill="#8b0000" stroke="#000" stroke-width="1.7" stroke-linejoin="miter"/>
<path d="M591.5 803.45L598.91 816.28L584.09 816.28Z" fill="#8b0000" stroke="#000" stroke-width="1.7" stroke-linejoin="miter"/>
<path d="M627 788.05L634.41 800.88L619.59 800.88Z" fill="#8b0000" stroke="#000" stroke-width="1.7" stroke-linejoin="miter"/>
<path d="M662.5 780.35L669.91 793.18L655.09 793.18Z" fill="#8b0000" stroke="#000" stroke-width="1.7" stroke-linejoin="miter"/>
<text transform="translate(557.7 716.7) scale(0.97 1.05)" font-size="12.3" text-anchor="middle">19.4</text>
<text transform="translate(591.6 712) scale(0.97 1.05)" font-size="12.3" text-anchor="middle">19.4</text>
<text transform="translate(628.7 715) scale(0.97 1.05)" font-size="12.3" text-anchor="middle">19.5</text>
<text transform="translate(664 721.6) scale(0.97 1.05)" font-size="12.3" text-anchor="middle">19.0</text>
<text transform="translate(556.1 790.14) scale(1 1.02)" font-size="16.5" text-anchor="middle" stroke="#000" stroke-width="0.15">***</text>
<text transform="translate(591.6 782.84) scale(1 1.02)" font-size="16.5" text-anchor="middle" stroke="#000" stroke-width="0.15">***</text>
<text transform="translate(627.1 782.84) scale(1 1.02)" font-size="16.5" text-anchor="middle" stroke="#000" stroke-width="0.15">***</text>
<text transform="translate(662.6 841.04) scale(1 1.02)" font-size="16.5" text-anchor="middle" stroke="#000" stroke-width="0.15">***</text>
<text transform="translate(86 913.6) scale(1 1.05)" font-size="15.4" text-anchor="middle">15</text>
<text transform="translate(121.6 913.6) scale(1 1.05)" font-size="15.4" text-anchor="middle">18</text>
<text transform="translate(157 913.6) scale(1 1.05)" font-size="15.4" text-anchor="middle">21</text>
<text transform="translate(192.4 913.6) scale(1 1.05)" font-size="15.4" text-anchor="middle">24</text>
<text transform="translate(242.4 913.6) scale(1 1.05)" font-size="15.4" text-anchor="middle">0</text>
<text transform="translate(277.8 913.6) scale(1 1.05)" font-size="15.4" text-anchor="middle">5</text>
<text transform="translate(313.3 913.6) scale(1 1.05)" font-size="15.4" text-anchor="middle">10</text>
<text transform="translate(348.6 913.6) scale(1 1.05)" font-size="15.4" text-anchor="middle">15</text>
<text transform="translate(398.8 913.6) scale(1 1.05)" font-size="15.4" text-anchor="middle">0</text>
<text transform="translate(434.1 913.6) scale(1 1.05)" font-size="15.4" text-anchor="middle">5</text>
<text transform="translate(469.3 913.6) scale(1 1.05)" font-size="15.4" text-anchor="middle">10</text>
<text transform="translate(504.8 913.6) scale(1 1.05)" font-size="15.4" text-anchor="middle">15</text>
<text transform="translate(554.9 913.6) scale(1 1.05)" font-size="15.4" text-anchor="middle">0</text>
<text transform="translate(590.4 913.6) scale(1 1.05)" font-size="15.4" text-anchor="middle">5</text>
<text transform="translate(625.9 913.6) scale(1 1.05)" font-size="15.4" text-anchor="middle">10</text>
<text transform="translate(661.3 913.6) scale(1 1.05)" font-size="15.4" text-anchor="middle">15</text>
<circle cx="85.9" cy="932" r="12.2" fill="#00008b"/>
<path d="M85.9 944.2L85.9 919.8M75.33 938.1L96.47 925.9M75.33 925.9L96.47 938.1" stroke="#fff" stroke-opacity="0.95" stroke-width="0.8" fill="none"/>
<circle cx="121.5" cy="932" r="12.2" fill="#006400"/>
<path d="M121.5 944.2L121.5 919.8M110.93 938.1L132.07 925.9M110.93 925.9L132.07 938.1" stroke="#fff" stroke-opacity="0.95" stroke-width="0.8" fill="none"/>
<circle cx="157" cy="932" r="12.2" fill="#ffa500"/>
<path d="M157 944.2L157 919.8M146.43 938.1L167.57 925.9M146.43 925.9L167.57 938.1" stroke="#fff" stroke-opacity="0.95" stroke-width="0.8" fill="none"/>
<circle cx="192.4" cy="932" r="12.2" fill="#8b0000"/>
<path d="M192.4 944.2L192.4 919.8M181.83 938.1L202.97 925.9M181.83 925.9L202.97 938.1" stroke="#fff" stroke-opacity="0.95" stroke-width="0.8" fill="none"/>
<circle cx="242.7" cy="932" r="12.2" fill="#00008b"/>
<path d="M242.7 932L242.7 919.8A12.2 12.2 0 0 1 253.27 938.1Z" fill="#006400"/>
<path d="M242.7 944.2L242.7 919.8M232.13 938.1L253.27 925.9M232.13 925.9L253.27 938.1" stroke="#fff" stroke-opacity="0.95" stroke-width="0.8" fill="none"/>
<circle cx="276.9" cy="932" r="12.2" fill="#00008b"/>
<path d="M276.9 932L287.47 925.9A12.2 12.2 0 0 1 276.9 944.2Z" fill="#006400"/>
<path d="M276.9 944.2L276.9 919.8M266.33 938.1L287.47 925.9M266.33 925.9L287.47 938.1" stroke="#fff" stroke-opacity="0.95" stroke-width="0.8" fill="none"/>
<circle cx="312.4" cy="932" r="12.2" fill="#00008b"/>
<path d="M312.4 932L322.97 938.1A12.2 12.2 0 0 1 301.83 938.1Z" fill="#0a6130"/>
<path d="M312.4 944.2L312.4 919.8M301.83 938.1L322.97 925.9M301.83 925.9L322.97 938.1" stroke="#fff" stroke-opacity="0.95" stroke-width="0.8" fill="none"/>
<circle cx="347.9" cy="932" r="12.2" fill="#00008b"/>
<path d="M347.9 932L347.9 944.2A12.2 12.2 0 0 1 337.33 925.9Z" fill="#006400"/>
<path d="M347.9 944.2L347.9 919.8M337.33 938.1L358.47 925.9M337.33 925.9L358.47 938.1" stroke="#fff" stroke-opacity="0.95" stroke-width="0.8" fill="none"/>
<circle cx="398.8" cy="932" r="12.2" fill="#00008b"/>
<path d="M398.8 932L398.8 919.8A12.2 12.2 0 0 1 409.37 938.1Z" fill="#ffa500"/>
<path d="M398.8 944.2L398.8 919.8M388.23 938.1L409.37 925.9M388.23 925.9L409.37 938.1" stroke="#fff" stroke-opacity="0.95" stroke-width="0.8" fill="none"/>
<circle cx="434.5" cy="932" r="12.2" fill="#00008b"/>
<path d="M434.5 932L445.07 925.9A12.2 12.2 0 0 1 434.5 944.2Z" fill="#ffa500"/>
<path d="M434.5 944.2L434.5 919.8M423.93 938.1L445.07 925.9M423.93 925.9L445.07 938.1" stroke="#fff" stroke-opacity="0.95" stroke-width="0.8" fill="none"/>
<circle cx="469.8" cy="932" r="12.2" fill="#00008b"/>
<path d="M469.8 932L480.37 938.1A12.2 12.2 0 0 1 459.23 938.1Z" fill="#ffa500"/>
<path d="M469.8 944.2L469.8 919.8M459.23 938.1L480.37 925.9M459.23 925.9L480.37 938.1" stroke="#fff" stroke-opacity="0.95" stroke-width="0.8" fill="none"/>
<circle cx="504.2" cy="932" r="12.2" fill="#00008b"/>
<path d="M504.2 932L504.2 944.2A12.2 12.2 0 0 1 493.63 925.9Z" fill="#ffa500"/>
<path d="M504.2 944.2L504.2 919.8M493.63 938.1L514.77 925.9M493.63 925.9L514.77 938.1" stroke="#fff" stroke-opacity="0.95" stroke-width="0.8" fill="none"/>
<circle cx="555.8" cy="932" r="12.2" fill="#00008b"/>
<path d="M555.8 932L555.8 919.8A12.2 12.2 0 0 1 566.37 938.1Z" fill="#8b0000"/>
<path d="M555.8 944.2L555.8 919.8M545.23 938.1L566.37 925.9M545.23 925.9L566.37 938.1" stroke="#fff" stroke-opacity="0.95" stroke-width="0.8" fill="none"/>
<circle cx="591.3" cy="932" r="12.2" fill="#00008b"/>
<path d="M591.3 932L601.87 925.9A12.2 12.2 0 0 1 591.3 944.2Z" fill="#8b0000"/>
<path d="M591.3 944.2L591.3 919.8M580.73 938.1L601.87 925.9M580.73 925.9L601.87 938.1" stroke="#fff" stroke-opacity="0.95" stroke-width="0.8" fill="none"/>
<circle cx="626.5" cy="932" r="12.2" fill="#00008b"/>
<path d="M626.5 932L637.07 938.1A12.2 12.2 0 0 1 615.93 938.1Z" fill="#8b0000"/>
<path d="M626.5 944.2L626.5 919.8M615.93 938.1L637.07 925.9M615.93 925.9L637.07 938.1" stroke="#fff" stroke-opacity="0.95" stroke-width="0.8" fill="none"/>
<circle cx="660.7" cy="932" r="12.2" fill="#00008b"/>
<path d="M660.7 932L660.7 944.2A12.2 12.2 0 0 1 650.13 925.9Z" fill="#8b0000"/>
<path d="M660.7 944.2L660.7 919.8M650.13 938.1L671.27 925.9M650.13 925.9L671.27 938.1" stroke="#fff" stroke-opacity="0.95" stroke-width="0.8" fill="none"/>
<text transform="translate(140.4 965.4) scale(1 1.02)" font-size="17" text-anchor="middle">T°C</text>
<text transform="translate(450 965.3) scale(1 1.02)" font-size="16.8" text-anchor="middle">Timing of warm pulses</text>
</svg>
</body></html>
